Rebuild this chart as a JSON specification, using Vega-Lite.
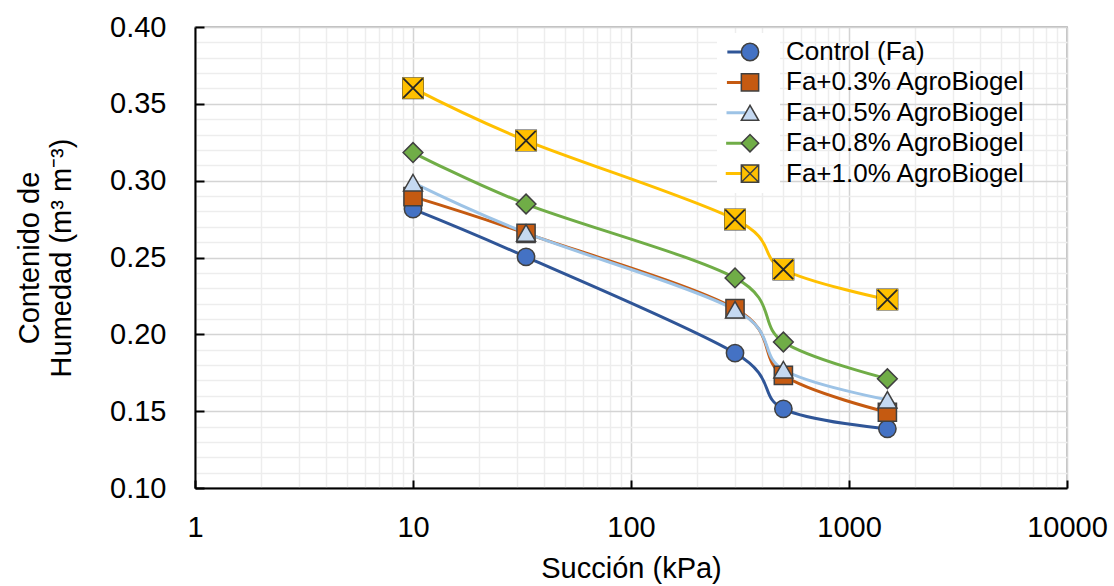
{
  "$schema": "https://vega.github.io/schema/vega-lite/v6.json",
  "width": 872,
  "height": 461,
  "autosize": "none",
  "padding": {"left": 195, "top": 27, "right": 47, "bottom": 98},
  "background": "white",
  "config": {
    "font": "Liberation Sans",
    "view": {"stroke": "#7F7F7F", "strokeWidth": 1.3},
    "axis": {"labelColor": "#000000", "titleColor": "#000000", "titleFontWeight": "normal", "domainColor": "#000000", "domainWidth": 2, "tickColor": "#000000", "tickWidth": 2}
  },
  "data": {
    "values": [
      {"s": 10, "h": 0.2815, "serie": "Control (Fa)"},
      {"s": 33, "h": 0.2504, "serie": "Control (Fa)"},
      {"s": 300, "h": 0.1878, "serie": "Control (Fa)"},
      {"s": 500, "h": 0.1515, "serie": "Control (Fa)"},
      {"s": 1500, "h": 0.1385, "serie": "Control (Fa)"},
      {"s": 10, "h": 0.2896, "serie": "Fa+0.3% AgroBiogel"},
      {"s": 33, "h": 0.2657, "serie": "Fa+0.3% AgroBiogel"},
      {"s": 300, "h": 0.2167, "serie": "Fa+0.3% AgroBiogel"},
      {"s": 500, "h": 0.1733, "serie": "Fa+0.3% AgroBiogel"},
      {"s": 1500, "h": 0.1493, "serie": "Fa+0.3% AgroBiogel"},
      {"s": 10, "h": 0.2987, "serie": "Fa+0.5% AgroBiogel"},
      {"s": 33, "h": 0.266, "serie": "Fa+0.5% AgroBiogel"},
      {"s": 300, "h": 0.216, "serie": "Fa+0.5% AgroBiogel"},
      {"s": 500, "h": 0.177, "serie": "Fa+0.5% AgroBiogel"},
      {"s": 1500, "h": 0.1574, "serie": "Fa+0.5% AgroBiogel"},
      {"s": 10, "h": 0.3183, "serie": "Fa+0.8% AgroBiogel"},
      {"s": 33, "h": 0.2848, "serie": "Fa+0.8% AgroBiogel"},
      {"s": 300, "h": 0.2367, "serie": "Fa+0.8% AgroBiogel"},
      {"s": 500, "h": 0.195, "serie": "Fa+0.8% AgroBiogel"},
      {"s": 1500, "h": 0.1711, "serie": "Fa+0.8% AgroBiogel"},
      {"s": 10, "h": 0.3602, "serie": "Fa+1.0% AgroBiogel"},
      {"s": 33, "h": 0.3261, "serie": "Fa+1.0% AgroBiogel"},
      {"s": 300, "h": 0.2748, "serie": "Fa+1.0% AgroBiogel"},
      {"s": 500, "h": 0.2422, "serie": "Fa+1.0% AgroBiogel"},
      {"s": 1500, "h": 0.2226, "serie": "Fa+1.0% AgroBiogel"}
    ]
  },
  "encoding": {
    "x": {
      "field": "s", "type": "quantitative",
      "scale": {"type": "log", "domain": [1, 10000], "nice": false},
      "axis": {
        "title": "Succión (kPa)", "titleFontSize": 29, "titlePadding": 12,
        "values": [1,2,3,4,5,6,7,8,9,10,20,30,40,50,60,70,80,90,100,200,300,400,500,600,700,800,900,1000,2000,3000,4000,5000,6000,7000,8000,9000,10000],
        "format": "d",
        "labelExpr": "indexof([1,10,100,1000,10000], datum.value) >= 0 ? datum.label : ''",
        "labelOverlap": false, "labelFlush": false, "labelFontSize": 29, "labelPadding": 33,
        "tickSize": -8,
        "tickOpacity": {"condition": {"test": "indexof([1,10,100,1000,10000], datum.value) >= 0", "value": 1}, "value": 0},
        "gridColor": {"condition": {"test": "indexof([1,10,100,1000,10000], datum.value) >= 0", "value": "#D4D4D4"}, "value": "#EDEDED"},
        "gridWidth": 1.5
      }
    },
    "y": {
      "field": "h", "type": "quantitative",
      "scale": {"domain": [0.1, 0.4], "nice": false, "zero": false},
      "axis": {
        "title": ["Contenido de", "Humedad  (m³ m⁻³)"], "titleFontSize": 29, "titleLineHeight": 32, "titlePadding": 33,
        "values": [0.10,0.11,0.12,0.13,0.14,0.15,0.16,0.17,0.18,0.19,0.20,0.21,0.22,0.23,0.24,0.25,0.26,0.27,0.28,0.29,0.30,0.31,0.32,0.33,0.34,0.35,0.36,0.37,0.38,0.39,0.40],
        "format": ".2f",
        "labelExpr": "abs(datum.value*20 - round(datum.value*20)) < 0.001 ? datum.label : ''",
        "labelOverlap": false, "labelFontSize": 29, "labelPadding": 38,
        "tickSize": -9,
        "tickOpacity": {"condition": {"test": "abs(datum.value*20 - round(datum.value*20)) < 0.001", "value": 1}, "value": 0},
        "gridColor": {"condition": {"test": "abs(datum.value*20 - round(datum.value*20)) < 0.001", "value": "#D4D4D4"}, "value": "#EDEDED"},
        "gridWidth": 1.5
      }
    }
  },
  "layer": [
    {
      "mark": {"type": "line", "interpolate": "cardinal", "strokeWidth": 3},
      "encoding": {
        "color": {
          "field": "serie", "type": "nominal",
          "scale": {"domain": ["Control (Fa)", "Fa+0.3% AgroBiogel", "Fa+0.5% AgroBiogel", "Fa+0.8% AgroBiogel", "Fa+1.0% AgroBiogel"], "range": ["#2F5597", "#C55A11", "#9DC3E6", "#70AD47", "#FFC000"]},
          "legend": {
            "title": null, "orient": "none", "legendX": 522, "legendY": 6, "direction": "vertical", "zindex": 1,
            "symbolType": "stroke", "symbolSize": 2916, "symbolStrokeWidth": 3, "clipHeight": 26,
            "labelExpr": "'                                  '",
            "labelFontSize": 26, "labelColor": "rgba(0,0,0,0)", "labelOffset": 25, "labelLimit": 400,
            "rowPadding": 4.4, "padding": 6, "fillColor": "white"
          }
        }
      }
    },
    {
      "mark": {"type": "point", "filled": true, "opacity": 1, "stroke": "#404040", "strokeWidth": 1.5},
      "encoding": {
        "fill": {
          "field": "serie", "type": "nominal",
          "scale": {"range": ["#4472C4", "#C55A11", "#C5D9F1", "#70AD47", "#FFC000"]},
          "legend": {
            "title": null, "orient": "none", "legendX": 542, "legendY": 12, "direction": "vertical", "zindex": 2,
            "symbolSize": 300, "clipHeight": 26, "symbolStrokeWidth": 1.5, "symbolOpacity": 1,
            "labelFontSize": 26, "labelColor": "#000000", "labelOffset": 23, "labelLimit": 400,
            "rowPadding": 4.4, "padding": 0
          }
        },
        "shape": {
          "field": "serie", "type": "nominal",
          "scale": {"range": ["circle", "square", "triangle-up", "diamond", "M-1,-1H1V1H-1Z M-1,-1L1,1 M1,-1L-1,1"]},
          "legend": {
            "title": null, "orient": "none", "legendX": 542, "legendY": 12, "direction": "vertical", "zindex": 2,
            "symbolSize": 300, "clipHeight": 26, "symbolStrokeWidth": 1.5, "symbolOpacity": 1,
            "labelFontSize": 26, "labelColor": "#000000", "labelOffset": 23, "labelLimit": 400,
            "rowPadding": 4.4, "padding": 0
          }
        },
        "size": {
          "field": "serie", "type": "nominal",
          "scale": {"domain": ["Control (Fa)", "Fa+0.3% AgroBiogel", "Fa+0.5% AgroBiogel", "Fa+0.8% AgroBiogel", "Fa+1.0% AgroBiogel"], "range": [300, 420, 400, 300, 360]},
          "legend": null
        }
      }
    },
    {
      "transform": [{"filter": "datum.serie == 'Fa+1.0% AgroBiogel'"}],
      "mark": {"type": "point", "shape": "square", "filled": true, "fill": "#FFC000", "strokeWidth": 0, "size": 440, "opacity": 1},
      "encoding": {}
    },
    {
      "transform": [{"filter": "datum.serie == 'Fa+1.0% AgroBiogel'"}],
      "mark": {"type": "point", "shape": "M-1,-1L1,1M1,-1L-1,1", "filled": false, "stroke": "#262626", "strokeWidth": 1.8, "size": 380, "opacity": 1},
      "encoding": {}
    }
  ]
}
